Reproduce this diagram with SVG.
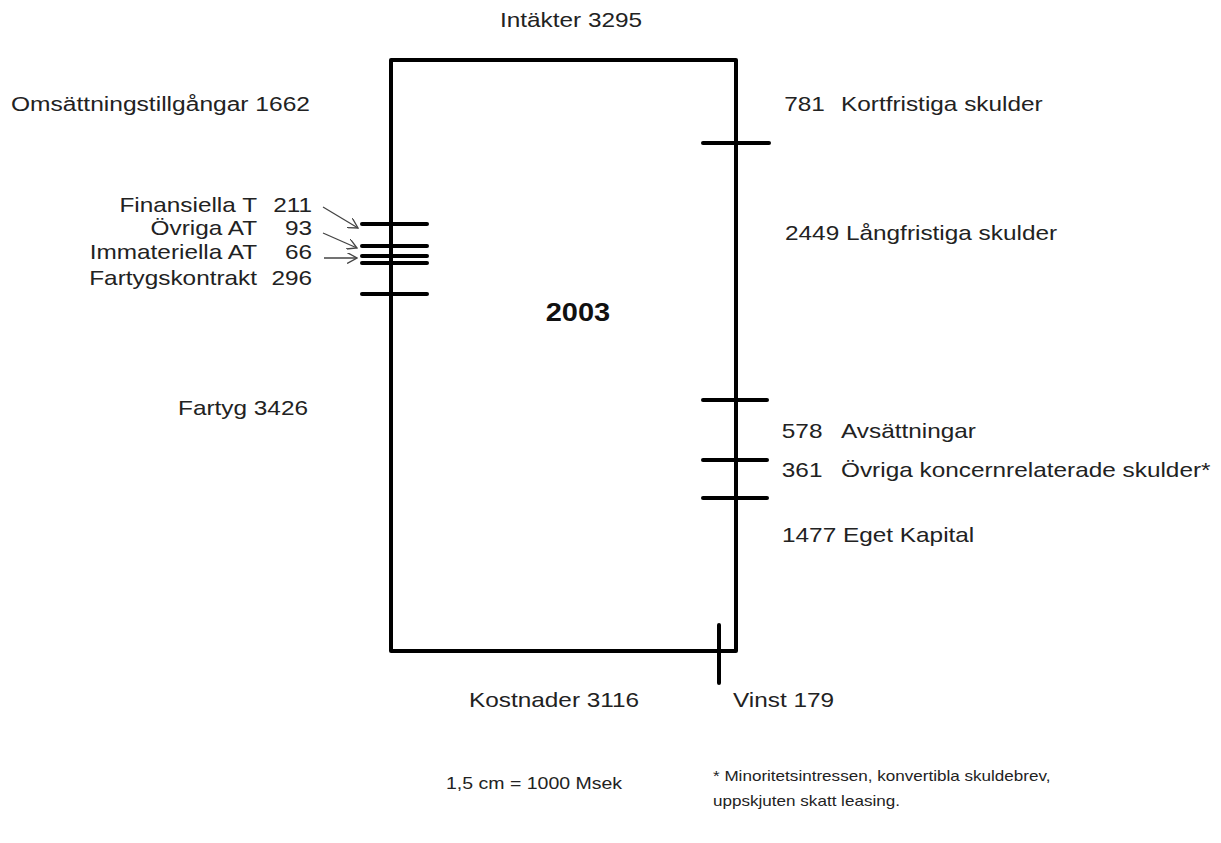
<svg xmlns="http://www.w3.org/2000/svg" width="1221" height="843" viewBox="0 0 1221 843">
<defs>
<style>
.t{font-family:"Liberation Sans",Arial,sans-serif;font-size:21px;fill:#222}
.s{font-family:"Liberation Sans",Arial,sans-serif;font-size:16px;fill:#222}
.f{font-family:"Liberation Sans",Arial,sans-serif;font-size:14px;fill:#222}
.b{font-family:"Liberation Sans",Arial,sans-serif;font-size:25px;font-weight:bold;fill:#111}
.thick{stroke:#000;stroke-width:4;fill:none;stroke-linecap:round}
.arr{stroke:#444;stroke-width:1.3;fill:none}
</style>
<marker id="oa" viewBox="0 0 10 10" refX="9" refY="5" markerWidth="11" markerHeight="11" markerUnits="userSpaceOnUse" orient="auto">
<path d="M0,0 L9,5 L0,10" fill="none" stroke="#444" stroke-width="1.2"/>
</marker>
</defs>
<rect width="1221" height="843" fill="#fff"/>
<g id="frame">
<path class="thick" d="M391,651 L391,60 L736,60 L736,651 L391,651" stroke-linejoin="round"/>
</g>
<g id="connectors">
<line class="thick" x1="703" y1="143" x2="769" y2="143"/>
<line class="thick" x1="703" y1="400" x2="767" y2="400"/>
<line class="thick" x1="703" y1="460" x2="767" y2="460"/>
<line class="thick" x1="703" y1="498" x2="767" y2="498"/>
<line class="thick" x1="362" y1="224" x2="427" y2="224"/>
<line class="thick" x1="362" y1="246" x2="427" y2="246"/>
<line class="thick" x1="362" y1="256" x2="427" y2="256"/>
<line class="thick" x1="362" y1="263" x2="427" y2="263"/>
<line class="thick" x1="362" y1="294" x2="427" y2="294"/>
<line class="thick" x1="719" y1="625" x2="719" y2="683"/>
<line class="arr" x1="323" y1="207" x2="358" y2="228" marker-end="url(#oa)"/>
<line class="arr" x1="323" y1="233" x2="357" y2="248" marker-end="url(#oa)"/>
<line class="arr" x1="324" y1="258" x2="357" y2="258" marker-end="url(#oa)"/>
</g>
<g id="intakter"><text class="t" transform="translate(500,27) scale(1.16,1)">Intäkter 3295</text></g>
<g id="omsattning"><text class="t" transform="translate(310,111) scale(1.17,1)" text-anchor="end">Omsättningstillgångar 1662</text></g>
<g id="finansiella"><text class="t" transform="translate(0,212) scale(1.16,1)"><tspan x="221.6" text-anchor="end">Finansiella T</tspan><tspan x="269" text-anchor="end">211</tspan></text></g>
<g id="ovriga-at"><text class="t" transform="translate(0,235) scale(1.16,1)"><tspan x="221.6" text-anchor="end">Övriga AT</tspan><tspan x="269" text-anchor="end">93</tspan></text></g>
<g id="immateriella"><text class="t" transform="translate(0,259) scale(1.16,1)"><tspan x="221.6" text-anchor="end">Immateriella AT</tspan><tspan x="269" text-anchor="end">66</tspan></text></g>
<g id="fartygskontrakt"><text class="t" transform="translate(0,285) scale(1.16,1)"><tspan x="221.6" text-anchor="end">Fartygskontrakt</tspan><tspan x="269" text-anchor="end">296</tspan></text></g>
<g id="fartyg"><text class="t" transform="translate(308,415) scale(1.16,1)" text-anchor="end">Fartyg 3426</text></g>
<g id="year"><text class="b" transform="translate(578,321) scale(1.16,1)" text-anchor="middle">2003</text></g>
<g id="kortfristiga"><text class="t" transform="translate(0,111) scale(1.16,1)"><tspan x="676">781</tspan><tspan x="725">Kortfristiga skulder</tspan></text></g>
<g id="langfristiga"><text class="t" transform="translate(785,240) scale(1.16,1)">2449 Långfristiga skulder</text></g>
<g id="avsattningar"><text class="t" transform="translate(0,438) scale(1.16,1)"><tspan x="674">578</tspan><tspan x="725">Avsättningar</tspan></text></g>
<g id="ovriga-skulder"><text class="t" transform="translate(0,477) scale(1.16,1)"><tspan x="674">361</tspan><tspan x="725">Övriga koncernrelaterade skulder*</tspan></text></g>
<g id="eget-kapital"><text class="t" transform="translate(782,542) scale(1.16,1)">1477 Eget Kapital</text></g>
<g id="kostnader"><text class="t" transform="translate(469,707) scale(1.16,1)">Kostnader 3116</text></g>
<g id="vinst"><text class="t" transform="translate(733,707) scale(1.16,1)">Vinst 179</text></g>
<g id="skala"><text class="s" transform="translate(446,789) scale(1.22,1)">1,5 cm = 1000 Msek</text></g>
<g id="fotnot"><text class="f" transform="translate(713,781) scale(1.22,1)">* Minoritetsintressen, konvertibla skuldebrev,</text><text class="f" transform="translate(713,806) scale(1.22,1)">uppskjuten skatt leasing.</text></g>
</svg>
